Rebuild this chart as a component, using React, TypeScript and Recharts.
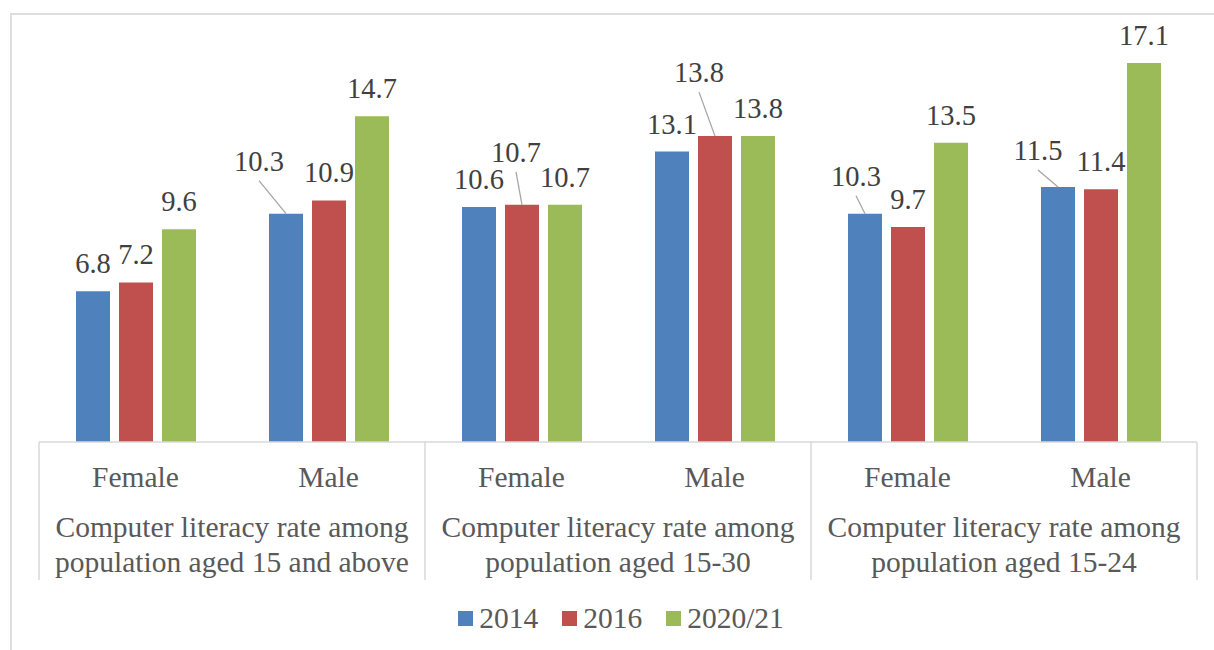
import { Bar, BarChart, LabelList, Legend, XAxis, YAxis } from "recharts";

const genders = ["Female", "Male", "Female", "Male", "Female", "Male"];
const groupOf = [0, 0, 1, 1, 2, 2];
const groupLabels = [
  ["Computer literacy rate among", "population aged 15 and above"],
  ["Computer literacy rate among", "population aged 15-30"],
  ["Computer literacy rate among", "population aged 15-24"],
];
const values2014 = [6.8, 10.3, 10.6, 13.1, 10.3, 11.5];
const values2016 = [7.2, 10.9, 10.7, 13.8, 9.7, 11.4];
const values2020 = [9.6, 14.7, 10.7, 13.8, 13.5, 17.1];

const series = [
  { key: "y2014", name: "2014", color: "#4F81BD" },
  { key: "y2016", name: "2016", color: "#C0504D" },
  { key: "y2020", name: "2020/21", color: "#9BBB59" },
];

// Excel moved a few labels off their bars and drew leader lines
const labelNudges: Record<string, { dx: number; dy: number }> = {
  "y2014-1": { dx: -27, dy: -25 },
  "y2016-2": { dx: -6, dy: -25 },
  "y2016-3": { dx: -16, dy: -36 },
  "y2014-4": { dx: -9, dy: -10 },
  "y2014-5": { dx: -20, dy: -9 },
};

const data = genders.map((g, i) => ({
  gender: g,
  group: groupLabels[groupOf[i]].join("\n"),
  y2014: values2014[i],
  y2016: values2016[i],
  y2020: values2020[i],
}));

const FONT = '"Liberation Serif", "Times New Roman", serif';
const GRID = "#D9D9D9";

function makeLabel(seriesKey: string) {
  return (props: any) => {
    const { x, y, width, value, index } = props;
    const cx = Number(x) + Number(width) / 2;
    const top = Number(y);
    const nudge = labelNudges[`${seriesKey}-${index}`];
    const lx = cx + (nudge ? nudge.dx : 0);
    const ly = top - 18 + (nudge ? nudge.dy : 0);
    return (
      <g>
        {nudge && (
          <line x1={lx} y1={ly + 10} x2={cx} y2={top} stroke="#A6A6A6" strokeWidth={1.3} />
        )}
        <text x={lx} y={ly} textAnchor="middle" style={{ fontFamily: FONT, fontSize: 28.5 }} fill="#404040">
          {value}
        </text>
      </g>
    );
  };
}

function GenderTick(props: any) {
  const { x, y, payload, index, width, visibleTicksCount } = props;
  const band = Number(width) / Number(visibleTicksCount);
  const left = x - band / 2;
  const right = x + band / 2;
  return (
    <g>
      {index % 2 === 0 && <line x1={left} y1={y} x2={left} y2={y + 138} stroke={GRID} strokeWidth={1.5} />}
      {index === visibleTicksCount - 1 && (
        <line x1={right} y1={y} x2={right} y2={y + 138} stroke={GRID} strokeWidth={1.5} />
      )}
      <text x={x} y={y + 45} textAnchor="middle" style={{ fontFamily: FONT, fontSize: 29.5 }} fill="#595959">
        {payload.value}
      </text>
    </g>
  );
}

function GroupTick(props: any) {
  const { x, y, payload } = props;
  const lines = String(payload.value).split("\n");
  return (
    <g>
      {lines.map((line, i) => (
        <text
          key={i}
          x={x}
          y={y + 33 + i * 35}
          textAnchor="middle"
          style={{ fontFamily: FONT, fontSize: 29.5 }}
          fill="#595959"
        >
          {line}
        </text>
      ))}
    </g>
  );
}

function LegendContent() {
  return (
    <div
      style={{
        height: 70,
        boxSizing: "border-box",
        paddingTop: 6,
        paddingLeft: 6,
        display: "flex",
        alignItems: "center",
        justifyContent: "center",
        fontFamily: FONT,
        fontSize: 29.5,
        color: "#595959",
      }}
    >
      {series.map((s) => (
        <div key={s.key} style={{ display: "flex", alignItems: "center", margin: "0 12px" }}>
          <span style={{ width: 15, height: 15, background: s.color, display: "inline-block", marginRight: 6 }} />
          <span>{s.name}</span>
        </div>
      ))}
    </div>
  );
}

export default function App() {
  return (
    <div style={{ position: "absolute", left: 0, top: 0, width: 1214, height: 650, overflow: "hidden", background: "#fff" }}>
      <div
        style={{
          position: "absolute",
          left: 10,
          top: 13,
          width: 1300,
          height: 700,
          border: "2px solid #DEDEDE",
        }}
      />
      <div style={{ position: "absolute", left: 0, top: 0 }}>
        <BarChart
          width={1214}
          height={650}
          data={data}
          margin={{ top: 43, right: 17, bottom: 0, left: 39 }}
          barSize={34}
          barGap={9}
        >
          <XAxis
            xAxisId="gender"
            dataKey="gender"
            height={62}
            tickLine={false}
            tickSize={0}
            tickMargin={0}
            axisLine={{ stroke: GRID, strokeWidth: 1.5 }}
            tick={GenderTick}
            interval={0}
          />
          <XAxis
            xAxisId="group"
            dataKey="group"
            allowDuplicatedCategory={false}
            height={76}
            tickLine={false}
            tickSize={0}
            tickMargin={0}
            axisLine={false}
            tick={GroupTick}
            interval={0}
          />
          <YAxis hide domain={[0, 18]} />
          <Legend verticalAlign="bottom" content={LegendContent} />
          {series.map((s) => (
            <Bar key={s.key} xAxisId="gender" dataKey={s.key} name={s.name} fill={s.color} isAnimationActive={false}>
              <LabelList dataKey={s.key} content={makeLabel(s.key)} />
            </Bar>
          ))}
        </BarChart>
      </div>
    </div>
  );
}
